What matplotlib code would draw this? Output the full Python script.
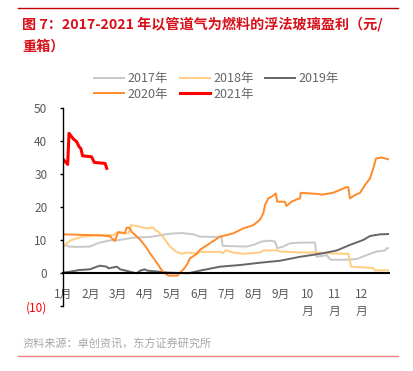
import matplotlib
matplotlib.use('Agg')
import matplotlib.pyplot as plt
from matplotlib.lines import Line2D

plt.rcParams['font.family'] = ['Noto Sans CJK SC', 'DejaVu Sans']
plt.rcParams['axes.unicode_minus'] = False

# x = month position (0 = start of Jan, 12 = end of Dec), y = 元/重箱
x2017 = [0, 0.1, 0.2, 0.5, 0.98, 1.3, 1.72, 2.0, 2.58, 3.2, 3.56, 3.93, 4.36, 4.8, 5.03, 5.83,
         5.87, 6.3, 6.75, 7.0, 7.3, 7.6, 7.8, 7.88, 8.1, 8.35, 8.72, 9.27, 9.33, 9.7, 9.85,
         10.43, 10.8, 11.17, 11.54, 11.85, 11.91, 12.0]
y2017 = [8.1, 8.6, 8.1, 8.0, 8.1, 9.2, 10.0, 10.0, 10.8, 11.0, 11.5, 12.0, 12.2, 11.8, 11.1, 11.0,
         8.3, 8.2, 8.1, 8.6, 9.6, 9.9, 9.6, 7.6, 8.1, 9.1, 9.3, 9.3, 5.0, 5.5, 4.1,
         4.1, 4.3, 5.5, 6.6, 6.9, 7.6, 7.6]

x2018 = [0, 0.1, 0.3, 0.7, 1.35, 1.85, 1.97, 2.2, 2.4, 2.49, 2.7, 3.07, 3.32, 3.38, 3.5, 3.62,
         3.8, 3.93, 4.15, 4.36, 4.55, 4.96, 5.03, 5.77, 5.9, 5.98, 6.26, 6.63, 7.24, 7.37,
         7.86, 7.98, 8.72, 9.4, 9.94, 10.5, 10.6, 11.42, 11.48, 12.0]
y2018 = [8.1, 8.9, 10.1, 11.1, 11.6, 11.6, 12.3, 12.1, 12.1, 14.6, 14.3, 13.6, 13.9, 13.1, 12.6, 11.6,
         9.6, 8.1, 6.6, 5.9, 6.3, 5.9, 6.5, 6.5, 6.1, 7.0, 6.3, 5.9, 6.3, 6.9,
         7.0, 6.6, 6.3, 6.3, 6.0, 5.9, 2.0, 1.6, 0.9, 0.9]

x2019 = [0, 0.25, 0.6, 0.98, 1.23, 1.35, 1.6, 1.66, 1.97, 2.1, 2.45, 2.7, 2.83, 3.0, 3.1, 3.5,
         3.87, 4.6, 5.03, 5.77, 6.5, 7.24, 7.98, 8.72, 9.45, 10.07, 10.56, 11.05, 11.3, 11.66, 12.0]
y2019 = [0.2, 0.5, 1.0, 1.2, 2.0, 2.3, 2.0, 1.5, 2.0, 1.2, 0.5, 0.0, 0.8, 1.2, 0.8, 0.5,
         0.2, 0.0, 0.8, 2.0, 2.5, 3.2, 3.8, 5.0, 5.9, 6.9, 8.6, 10.1, 11.3, 11.8, 11.9]

x2020 = [0, 1.35, 1.72, 1.9, 2.02, 2.27, 2.33, 2.45, 2.52, 2.6, 2.85, 3.04, 3.2, 3.33, 3.5, 3.62,
         3.75, 3.87, 4.2, 4.28, 4.46, 4.58, 4.66, 4.85, 5.03, 5.4, 5.77, 6.26, 6.63, 7.0, 7.24,
         7.37, 7.43, 7.55, 7.67, 7.83, 7.88, 8.16, 8.22, 8.41, 8.6, 8.72, 8.75, 9.45, 9.51,
         9.94, 10.43, 10.5, 10.56, 10.74, 10.93, 11.11, 11.3, 11.42, 11.52, 11.72, 12.0]
y2020 = [11.8, 11.5, 11.2, 9.8, 12.5, 12.2, 13.8, 13.8, 12.5, 12.0, 10.0, 8.0, 6.0, 4.5, 2.5, 1.0,
         0.0, -0.7, -0.7, 0.0, 1.5, 3.0, 4.5, 5.5, 7.1, 9.1, 11.1, 12.1, 13.6, 14.6, 16.2,
         18.2, 20.7, 22.7, 23.2, 24.2, 21.7, 21.7, 20.4, 21.7, 22.4, 22.7, 24.4, 24.0, 23.8,
         24.4, 26.1, 26.1, 22.7, 23.7, 24.4, 26.7, 28.8, 31.8, 34.8, 35.1, 34.5]

x2021 = [0, 0.16, 0.21, 0.37, 0.49, 0.58, 0.65, 0.71, 1.04, 1.14, 1.54, 1.6]
y2021 = [34.5, 33.0, 42.4, 40.7, 39.9, 38.4, 37.7, 35.6, 35.3, 33.6, 33.3, 31.8]

month_labels = ['1月', '2月', '3月', '4月', '5月', '6月', '7月', '8月', '9月', '10\n月', '11\n月', '12\n月']
y_ticks = [-10, 0, 10, 20, 30, 40, 50]
y_labels = ['(10)', '0', '10', '20', '30', '40', '50']

fig = plt.figure(figsize=(4.13, 3.71), dpi=100)
ax = fig.add_axes([0.1533, 0.1744, 0.7887, 0.5337])

l17, = ax.plot(x2017, y2017, color='#c8c8c8', lw=1.4, label='2017年')
l18, = ax.plot(x2018, y2018, color='#ffcc80', lw=1.4, label='2018年')
l19, = ax.plot(x2019, y2019, color='#666666', lw=1.4, label='2019年')
l20, = ax.plot(x2020, y2020, color='#ff8a2a', lw=1.4, label='2020年')
l21, = ax.plot(x2021, y2021, color='#ff0000', lw=2.2, label='2021年')

ax.set_xlim(0, 12)
ax.set_ylim(-10, 50)
ax.spines['top'].set_visible(False)
ax.spines['right'].set_visible(False)
ax.spines['bottom'].set_position(('data', 0))
ax.spines['bottom'].set_linewidth(1.5)
ax.spines['left'].set_linewidth(1.0)

ax.set_xticks(range(12))
ax.set_xticklabels(month_labels, linespacing=1.45)
ax.tick_params(axis='x', length=0, pad=10.5, labelsize=8.5, labelcolor='#595959')
ax.set_yticks(y_ticks)
ax.set_yticklabels(y_labels)
ax.tick_params(axis='y', length=2.5, width=1, pad=9, labelsize=8.5, labelcolor='#595959')
ax.get_yticklabels()[0].set_color('#ff0000')

fig.legend([l17, l20, l18, l21, l19], ['2017年', '2020年', '2018年', '2021年', '2019年'],
           ncol=3, loc='upper left', bbox_to_anchor=(0.228, 0.805), frameon=False,
           fontsize=9, labelcolor='#666666', handlelength=2.4, handletextpad=0.3,
           columnspacing=0.9, labelspacing=0.2, borderpad=0, borderaxespad=0)

fig.add_artist(Line2D([18 / 413, 398 / 413], [1 - 7.5 / 371, 1 - 7.5 / 371], color='#c00000', lw=1))
fig.add_artist(Line2D([18 / 413, 398 / 413], [1 - 356 / 371, 1 - 356 / 371], color='#f08080', lw=1))

fig.text(22 / 413, 1 - 24 / 371, '图 7：2017-2021 年以管道气为燃料的浮法玻璃盈利（元/',
         color='#d8101a', fontsize=10.2, fontweight='bold', va='center', ha='left')
fig.text(22 / 413, 1 - 46.5 / 371, '重箱）',
         color='#d8101a', fontsize=10.2, fontweight='bold', va='center', ha='left')
fig.text(22 / 413, 1 - 344 / 371, '资料来源：卓创资讯，东方证券研究所',
         color='#a6a6a6', fontsize=8, va='center', ha='left')

fig.savefig('out.png', dpi=100)
